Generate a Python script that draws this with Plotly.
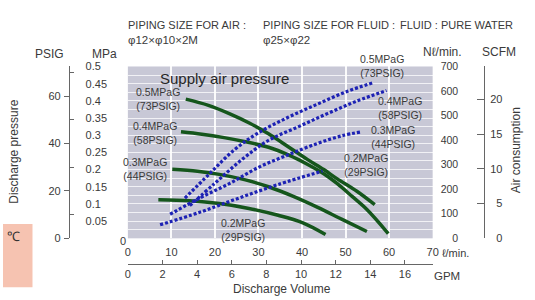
import plotly.graph_objects as go

W, H = 535, 300
def fx(px): return px / W
def fy(py): return 1 - py / H

# ---------------- data ----------------
lpm_ticks = [0, 10, 20, 30, 40, 50, 60, 70]
lpm_text = ["0", "10", "20", "30", "40", "50", "60", "70"]
gpm_ticks = [0, 2, 4, 6, 8, 10, 12, 14, 16]
mpa_ticks = [0.05, 0.1, 0.15, 0.2, 0.25, 0.3, 0.35, 0.4, 0.45, 0.5]
mpa_text = ["0.05", "0.1", "0.15", "0.2", "0.25", "0.3", "0.35", "0.4", "0.45", "0.5"]
psig_ticks = [0, 20, 40, 60]
psig_minor = [10, 30, 50, 70]
nl_ticks = [0, 100, 200, 300, 400, 500, 600, 700]
scfm_ticks = [0, 5, 10, 15, 20]

# discharge pressure (MPa) vs discharge volume (l/min)
dp_05_x = [13.3, 18.5, 23.3, 28.0, 32.3, 37.0, 41.3, 45.0, 48.1, 52.6, 56.7]
dp_05_y = [0.405, 0.387, 0.363, 0.335, 0.304, 0.265, 0.229, 0.200, 0.173, 0.137, 0.098]
dp_04_x = [12.2, 17.0, 22.1, 27.0, 32.3, 37.0, 41.3, 45.0, 48.1, 51.5, 54.9, 59.8]
dp_04_y = [0.310, 0.303, 0.293, 0.281, 0.265, 0.242, 0.215, 0.188, 0.159, 0.122, 0.084, 0.014]
dp_03_x = [10.2, 16.0, 21.0, 27.0, 32.3, 38.0, 43.6, 49.2, 54.9]
dp_03_y = [0.201, 0.195, 0.186, 0.170, 0.150, 0.122, 0.090, 0.055, 0.020]
dp_02_x = [7.0, 14.2, 21.0, 27.8, 34.5, 40.2, 45.4]
dp_02_y = [0.112, 0.109, 0.101, 0.087, 0.067, 0.045, 0.011]

# air consumption (Nl/min) vs discharge volume (l/min)
ac_05_x = [13.1, 18.7, 24.4, 30.0, 36.8, 43.6, 50.3, 56.4]
ac_05_y = [164, 262, 360, 430, 493, 547, 598, 634]
ac_04_x = [14.2, 19.9, 26.2, 32.3, 39.1, 45.8, 52.6, 59.4]
ac_04_y = [133, 223, 321, 399, 454, 508, 559, 602]
ac_03_x = [9.7, 16.5, 23.3, 30.0, 36.8, 43.6, 49.2, 53.7]
ac_03_y = [98, 164, 223, 289, 340, 387, 418, 434]
ac_02_x = [7.4, 16.5, 25.5, 34.5, 44.7]
ac_02_y = [55, 106, 164, 219, 274]

label_05 = "0.5MPaG<br>(73PSIG)"
label_04 = "0.4MPaG<br>(58PSIG)"
label_03 = "0.3MPaG<br>(44PSIG)"
label_02 = "0.2MPaG<br>(29PSIG)"

# ---------------- styles ----------------
GREEN = "#15561c"
BLUE = "#1d22b4"
TXT = "#3a3a3a"
FONT = "Liberation Sans, Arial, sans-serif"
BG = "#c8c8d6"

fig = go.Figure()

for xs, ys in [(dp_05_x, dp_05_y), (dp_04_x, dp_04_y), (dp_03_x, dp_03_y), (dp_02_x, dp_02_y)]:
    fig.add_trace(go.Scatter(x=xs, y=ys, mode="lines", line=dict(color=GREEN, width=3.5, shape="spline"),
                             xaxis="x", yaxis="y", showlegend=False, hoverinfo="skip"))
for xs, ys in [(ac_05_x, ac_05_y), (ac_04_x, ac_04_y), (ac_03_x, ac_03_y), (ac_02_x, ac_02_y)]:
    fig.add_trace(go.Scatter(x=xs, y=ys, mode="lines",
                             line=dict(color=BLUE, width=3.2, shape="spline", dash="3px,2px"),
                             xaxis="x", yaxis="y2", showlegend=False, hoverinfo="skip"))

# invisible helper traces so that the extra scale axes are drawn
def helper(xs, ys, xa, ya):
    fig.add_trace(go.Scatter(x=xs, y=ys, mode="markers", marker=dict(opacity=0, size=1),
                             xaxis=xa, yaxis=ya, showlegend=False, hoverinfo="skip"))

helper(gpm_ticks, [mpa_ticks[0]] * len(gpm_ticks), "x2", "y")
helper([lpm_ticks[0]] * len(mpa_ticks), mpa_ticks, "x", "y3")
helper([lpm_ticks[0]] * len(psig_ticks), psig_ticks, "x", "y4")
helper([lpm_ticks[0]] * len(scfm_ticks), scfm_ticks, "x", "y5")
helper([lpm_ticks[0]] * len(scfm_ticks), scfm_ticks, "x", "y6")

ydom = [fy(242), fy(63)]
tickfont = dict(family=FONT, size=11, color=TXT)

fig.update_layout(
    width=W, height=H, margin=dict(l=0, r=0, t=0, b=0),
    paper_bgcolor="white", plot_bgcolor=BG, showlegend=False,
    font=dict(family=FONT, color=TXT),
    xaxis=dict(domain=[fx(127), fx(437)], range=[0, 70], anchor="y",
               tickmode="array", tickvals=lpm_ticks, ticktext=lpm_text,
               showgrid=True, gridcolor="rgba(255,255,255,0.9)", gridwidth=1.5,
               zeroline=False, showline=False, ticks="", ticklabelstandoff=6, tickfont=tickfont),
    xaxis2=dict(overlaying="x", anchor="free", position=fy(269), side="bottom", range=[0, 17.6],
                tickmode="array", tickvals=gpm_ticks, showgrid=False, zeroline=False,
                showline=True, linecolor="#666", linewidth=1, ticks="inside", ticklen=4,
                tickcolor="#666", ticklabelstandoff=0, tickfont=tickfont),
    yaxis=dict(domain=ydom, range=[0, 0.5], anchor="x", dtick=0.025, showticklabels=False,
               showgrid=True, gridcolor="rgba(255,255,255,0.75)", gridwidth=1,
               zeroline=False, showline=False, ticks=""),
    yaxis2=dict(overlaying="y", anchor="free", position=fx(463), side="left", range=[0, 700],
                tickmode="array", tickvals=nl_ticks, showgrid=False, zeroline=False,
                showline=False, ticks="", ticklabelstandoff=0, tickfont=dict(family=FONT, size=10.5, color=TXT)),
    yaxis3=dict(overlaying="y", anchor="free", position=fx(83), side="right", range=[0, 0.5],
                tickmode="array", tickvals=mpa_ticks, ticktext=mpa_text, showgrid=False,
                zeroline=False, showline=False, ticks="", ticklabelstandoff=0, tickfont=tickfont),
    yaxis4=dict(overlaying="y", anchor="free", position=fx(67), side="left", range=[0, 72.52],
                tickmode="array", tickvals=psig_ticks, showgrid=False, zeroline=False,
                showline=True, linecolor="#666", linewidth=1, ticks="outside", ticklen=5,
                tickcolor="#666", tickfont=tickfont, ticklabelstandoff=1,
                minor=dict(tickmode="array", tickvals=psig_minor, ticks="inside", ticklen=4,
                           tickcolor="#666", showgrid=False)),
    yaxis5=dict(overlaying="y", anchor="free", position=fx(489), side="right", range=[0, 24.72],
                tickmode="array", tickvals=scfm_ticks, showgrid=False, zeroline=False,
                showline=True, linecolor="#666", linewidth=1, ticks="inside", ticklen=7,
                tickcolor="#666", showticklabels=False),
    yaxis6=dict(overlaying="y", anchor="free", position=fx(508), side="left", range=[0, 24.72],
                tickmode="array", tickvals=scfm_ticks, showgrid=False, zeroline=False,
                showline=False, ticks="", ticklabelstandoff=0, tickfont=tickfont),
)

def ann(text, px, py, size=11, xanchor="left", yanchor="middle", color=TXT, angle=0, family=FONT, **kw):
    fig.add_annotation(text=text, x=fx(px), y=fy(py), xref="paper", yref="paper",
                       xanchor=xanchor, yanchor=yanchor, showarrow=False, textangle=angle,
                       font=dict(size=size, color=color, family=family), **kw)

# header
ann("PIPING SIZE FOR AIR :", 125, 20)
ann("\u03c612\u00d7\u03c610\u00d72M", 125, 35, size=11.5)
ann("PIPING SIZE FOR FLUID :", 262, 20)
ann("\u03c625\u00d7\u03c622", 262, 35, size=11.5)
ann("FLUID : PURE WATER", 402, 20)

# axis headers
ann("PSIG", 47, 50, size=12, xanchor="center")
ann("MPa", 103, 50, size=12, xanchor="center")
ann("N\u2113/min.", 447, 48, size=12, xanchor="center")
ann("SCFM", 504, 48, size=12, xanchor="center")
ann("0", 122, 245, size=11, xanchor="center")
ann("\u2113/min.", 444, 257, size=11)
ann("GPM", 436, 281, size=11.5)

ann("Discharge pressure", 11, 152, size=12, xanchor="center", angle=-90)
ann("Air consumption", 522, 150, size=12, xanchor="center", angle=-90)
ann("Discharge Volume", 284, 295, size=12, xanchor="center")
ann("Supply air pressure", 158, 76, size=15, color="#262626")

# curve labels
lab = dict(size=10.5, yanchor="middle")
ann(label_05, 133, 97, **lab)
ann(label_04, 130, 132, **lab)
ann(label_03, 120, 170, **lab)
ann(label_02, 220, 233, **lab)
ann(label_05, 361, 63, **lab)
ann(label_04, 379, 106, **lab)
ann(label_03, 372, 136, **lab)
ann(label_02, 345, 166, **lab)

# pink box with degree symbol
fig.add_shape(type="rect", xref="paper", yref="paper", x0=0, x1=fx(30), y0=fy(293), y1=fy(227),
              fillcolor="#f6c3b1", line=dict(width=0), layer="below")
ann("\u2103", 2, 240, size=13, color="#333")

fig.write_html("out.html", config={"displayModeBar": False},
               post_script="document.body.style.margin='0';")
